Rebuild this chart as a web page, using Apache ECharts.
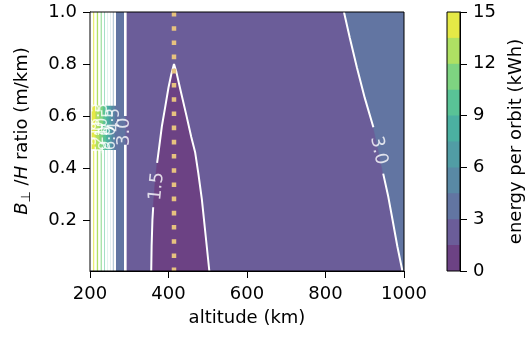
<!DOCTYPE html>
<html>
<head>
<meta charset="utf-8">
<script src="https://cdn.jsdelivr.net/npm/echarts@6/dist/echarts.min.js"></script>
<style>
  html, body { margin: 0; padding: 0; background: #fff; }
  #chart { width: 529px; height: 337px; }
</style>
</head>
<body>
<div id="chart"></div>
<script>
// filled contour level edges (kWh)
const levels = [0, 1.5, 3, 4.5, 6, 7.5, 9, 10.5, 12, 13.5, 15]
const xTicks = [200, 400, 600, 800, 1000]
const yTicks = [0.2, 0.4, 0.6, 0.8, 1.0]
const cbTicks = [0, 3, 6, 9, 12, 15]
const altRange = [200, 1000]
const ratioRange = [0.005, 1.0]

// 1.5 kWh contour, [altitude km, ratio]
const contour15 = [
  [356, 0.005], [357, 0.1], [359, 0.2], [361, 0.25], [366, 0.35], [371, 0.42],
  [377, 0.49], [383, 0.56], [391, 0.63], [400, 0.71], [407, 0.76], [414, 0.80],
  [420, 0.77], [429, 0.71], [446, 0.6], [458, 0.52], [468, 0.46], [476, 0.38],
  [485, 0.28], [494, 0.15], [504, 0.005]
]
// 3.0 kWh contour at high altitude
const contour30 = [
  [847, 1.0], [862, 0.9], [880, 0.787], [900, 0.67], [922, 0.557], [935, 0.468],
  [947, 0.379], [960, 0.29], [971, 0.2], [983, 0.1], [996, 0.005]
]
// steep low-altitude contours: level and the altitude where it sits
const leftLevels = [3, 4.5, 6, 7.5, 9, 10.5, 12, 13.5, 15]
const leftAlts = [290, 263, 255, 248, 241, 233, 224, 214, 205]
// dotted reference altitude
const refAlt = 414

// inline contour labels
const labelText = ['1.5', '3.0', '3.0']
const labelAt = [[370, 0.33], [935, 0.468], [287, 0.54]]
const labelAngle = [84, -78, 90]

// viridis band colours (alpha .8 on white), one per band
const bandColors = ['#6c4284', '#6b5d99', '#6275a2', '#5989a5', '#519da5',
  '#4bb0a1', '#59c396', '#7ed481', '#afe163', '#e5e946']

const FONT = 'DejaVu Sans'
const GAP = ['-', '-']
const [yLo, yHi] = ratioRange

// fill polygons, drawn in order
const polygons = []
const rect = (a, b, fill) => polygons.push({ pts: [[a, yLo], [b, yLo], [b, yHi], [a, yHi]], fill })
rect(altRange[0], altRange[1], bandColors[1])
rect(altRange[0], leftAlts[leftAlts.length - 1], '#ffffff')
for (let i = 0; i < leftAlts.length - 1; i++) {
  rect(leftAlts[i + 1], leftAlts[i], bandColors[levels.indexOf(leftLevels[i])])
}
polygons.push({ pts: contour15, fill: bandColors[0] })
polygons.push({ pts: [...contour30, [altRange[1], yLo], [altRange[1], yHi]], fill: bandColors[2] })

// white contour lines with gaps where labels sit
const line15 = [...contour15.slice(0, 4), GAP, ...contour15.slice(5)]
const line30 = [...contour30.slice(0, 5), GAP, ...contour30.slice(6)]
const leftLines = []
leftAlts.forEach((a, i) => {
  const g = i === 0 ? [0.49, 0.60] : [0.47, 0.64]
  leftLines.push([a, yLo], [a, g[0]], GAP, [a, g[1]], [a, yHi], GAP)
})

const labelData = labelText.map((t, i) => ({
  value: labelAt[i], name: t, label: { rotate: labelAngle[i], fontSize: 18 }
}))
leftLevels.slice(1).forEach((lv, k) => {
  labelData.push({
    value: [leftAlts[k + 1], k % 2 ? 0.515 : 0.585],
    name: lv.toFixed(1),
    label: { rotate: 90, fontSize: 15 }
  })
})

const whiteLine = (data, width) => ({
  type: 'line', data, showSymbol: false, silent: true, z: 5,
  lineStyle: { color: '#fff', width }, connectNulls: false
})

const chart = echarts.init(document.getElementById('chart'))
chart.setOption({
  animation: false,
  textStyle: { fontFamily: FONT },
  grid: [
    { left: 90, top: 12, width: 314, height: 259 },
    { left: 447, top: 12, width: 13, height: 259 }
  ],
  xAxis: [
    {
      type: 'value', min: altRange[0], max: altRange[1], interval: 200,
      axisLine: { lineStyle: { color: '#000' } },
      axisTick: { length: 7, lineStyle: { color: '#000' } },
      axisLabel: { fontSize: 18, color: '#000', margin: 14, fontFamily: FONT,
        customValues: xTicks, formatter: v => String(v) },
      splitLine: { show: false },
      name: 'altitude (km)', nameLocation: 'middle', nameGap: 38,
      nameTextStyle: { fontSize: 18, color: '#000', fontFamily: FONT }
    },
    { type: 'category', gridIndex: 1, data: [''], show: false }
  ],
  yAxis: [
    {
      type: 'value', min: yLo, max: yHi,
      axisLine: { show: true, lineStyle: { color: '#000' } },
      axisTick: { show: true, length: 7, lineStyle: { color: '#000' }, customValues: yTicks },
      axisLabel: { fontSize: 18, color: '#000', margin: 13, fontFamily: FONT,
        customValues: yTicks, formatter: v => v.toFixed(1) },
      splitLine: { show: false }
    },
    {
      type: 'value', gridIndex: 1, min: 0, max: 15, interval: 3, position: 'right',
      axisLine: { show: true, lineStyle: { color: '#000' } },
      axisTick: { show: true, length: 7, lineStyle: { color: '#000' } },
      axisLabel: { fontSize: 18, color: '#000', margin: 13, fontFamily: FONT,
        customValues: cbTicks },
      splitLine: { show: false },
      name: 'energy per orbit (kWh)', nameLocation: 'middle', nameRotate: 90, nameGap: 47,
      nameTextStyle: { fontSize: 18, color: '#000', fontFamily: FONT }
    }
  ],
  graphic: [
    {
      type: 'text', x: 22, y: 131, rotation: Math.PI / 2, z: 100,
      style: {
        text: '{i|B}{s|⊥}{n| /}{i|H}{n| ratio (m/km)}',
        align: 'center', verticalAlign: 'middle', fill: '#000',
        rich: {
          n: { fontSize: 18, fontFamily: FONT, lineHeight: 22 },
          i: { fontSize: 18, fontFamily: FONT, fontStyle: 'italic', lineHeight: 22 },
          s: { fontSize: 13, fontFamily: FONT, lineHeight: 14, verticalAlign: 'bottom' }
        }
      }
    },
    { type: 'rect', z: 100, shape: { x: 90, y: 12, width: 314, height: 259 },
      style: { fill: null, stroke: '#000', lineWidth: 1 } },
    { type: 'rect', z: 100, shape: { x: 447, y: 12, width: 13, height: 259 },
      style: { fill: null, stroke: '#000', lineWidth: 1 } }
  ],
  series: [
    {
      type: 'custom', silent: true, z: 1, clip: true,
      data: polygons.map(p => p.pts[0]),
      encode: { x: 0, y: 1 },
      renderItem: (params, api) => {
        const poly = polygons[params.dataIndex]
        return {
          type: 'polygon',
          shape: { points: poly.pts.map(p => api.coord(p)) },
          style: { fill: poly.fill, stroke: poly.fill, lineWidth: 0.5 }
        }
      }
    },
    whiteLine(leftLines, 2.6),
    whiteLine(line15, 2),
    whiteLine(line30, 2),
    {
      type: 'line', data: [[refAlt, yHi], [refAlt, yLo]], showSymbol: false, silent: true, z: 6,
      lineStyle: { color: '#e7c27f', width: 4.5, type: [4.6, 9.6], cap: 'butt' }
    },
    {
      type: 'scatter', data: labelData, symbolSize: 0, silent: true, z: 7,
      label: { show: true, position: 'inside', color: '#fff', fontFamily: FONT,
        formatter: p => p.name }
    },
    {
      // colour bar: each band painted from its lower edge to the top, later ones on top
      type: 'custom', xAxisIndex: 1, yAxisIndex: 1, silent: true,
      data: bandColors.map((c, i) => [0, levels[i]]),
      encode: { x: 0, y: 1 },
      renderItem: (params, api) => {
        const cs = params.coordSys
        const bottom = api.coord([0, levels[params.dataIndex]])[1]
        const top = api.coord([0, levels[levels.length - 1]])[1]
        return {
          type: 'rect',
          shape: { x: cs.x, y: top, width: cs.width, height: bottom - top },
          style: { fill: bandColors[params.dataIndex] }
        }
      }
    }
  ]
})
</script>
</body>
</html>
